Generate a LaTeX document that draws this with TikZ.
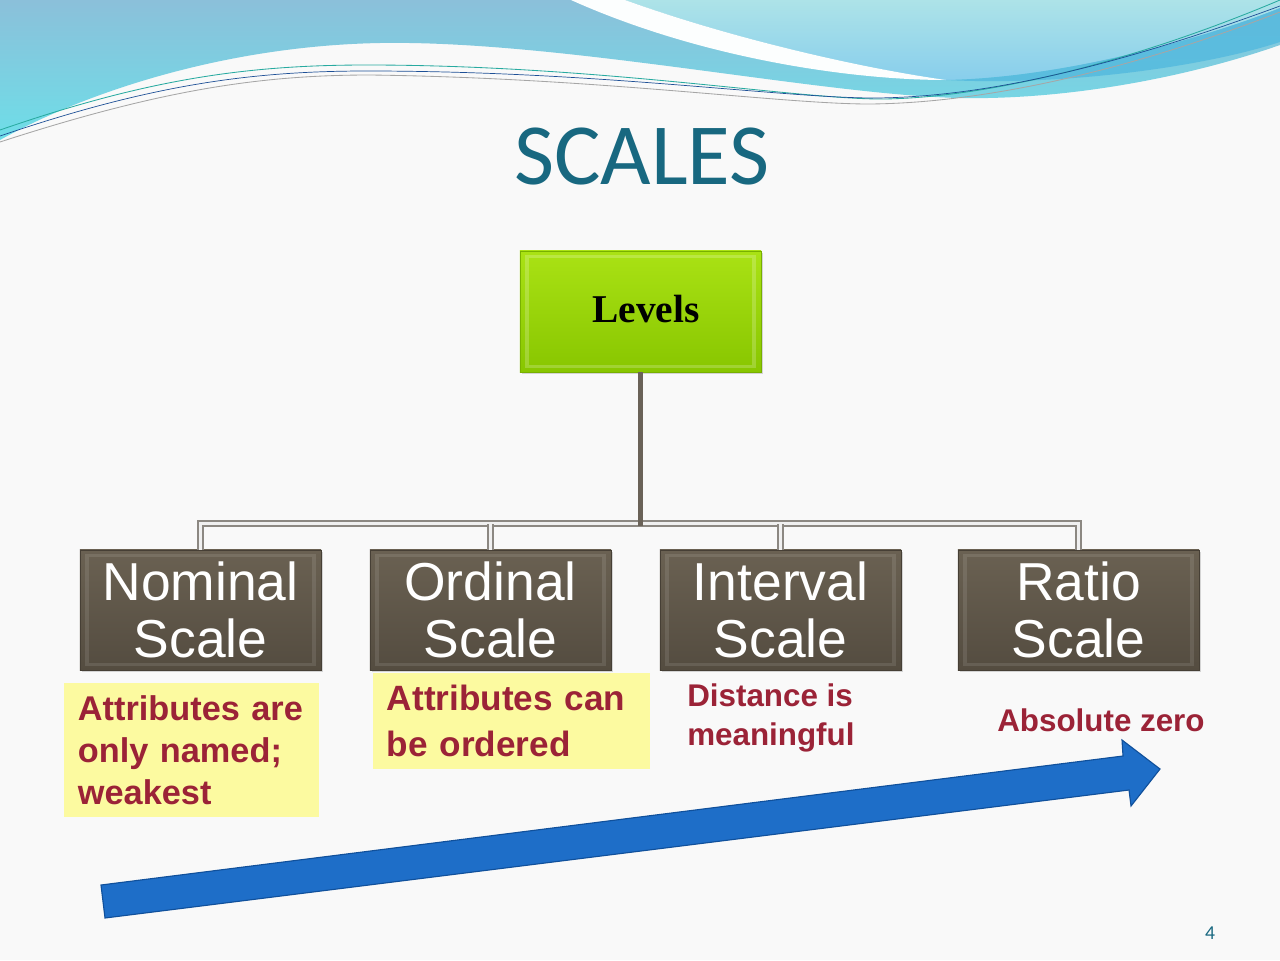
\documentclass[tikz,border=0pt]{standalone}
\usepackage{fontspec}
\setmainfont{Liberation Sans}
\newfontfamily\titlefont{Carlito}
\newfontfamily\levelfont{Liberation Serif}
\usetikzlibrary{shadows}

\definecolor{slidebg}{RGB}{249,249,249}
\definecolor{titleteal}{RGB}{24,104,128}
\definecolor{limetop}{RGB}{170,226,20}
\definecolor{limebot}{RGB}{136,198,0}
\definecolor{limeedge}{RGB}{120,176,0}
\definecolor{boxtop}{RGB}{106,97,82}
\definecolor{boxbot}{RGB}{84,76,64}
\definecolor{boxedge}{RGB}{70,63,53}
\definecolor{noteyellow}{RGB}{252,250,160}
\definecolor{notered}{RGB}{155,35,55}
\definecolor{arrowblue}{RGB}{30,110,200}
\definecolor{arrowedge}{RGB}{16,80,155}
\definecolor{trunkgray}{RGB}{106,98,88}
\definecolor{bargray}{RGB}{140,136,130}
\definecolor{waveA}{RGB}{139,192,218}
\definecolor{waveB}{RGB}{110,222,232}
\definecolor{waveC}{RGB}{173,227,232}
\definecolor{waveD}{RGB}{136,206,236}
\definecolor{bandblue}{RGB}{82,185,222}
\definecolor{lineteal}{RGB}{40,170,160}
\definecolor{linenavy}{RGB}{30,80,150}

\begin{document}
\begin{tikzpicture}[x=0.025cm, y=-0.025cm]

% ---- Define Styles ----
\tikzset{
  scalebox/.style={
    draw=boxedge, line width=0.6pt, top color=boxtop, bottom color=boxbot,
    minimum width=6.025cm, minimum height=3cm, inner sep=0pt,
    text=white, align=center, font=\fontsize{38}{40.5}\selectfont,
    drop shadow={shadow xshift=1.5pt, shadow yshift=-1.5pt, opacity=0.3},
    bevel=0.1
  },
  levelbox/.style={
    draw=limeedge, line width=0.6pt, top color=limetop, bottom color=limebot,
    minimum width=6.025cm, minimum height=3.025cm, inner sep=0pt,
    font=\levelfont\bfseries\fontsize{28}{30}\selectfont,
    drop shadow={shadow xshift=1.5pt, shadow yshift=-1.5pt, opacity=0.3},
    bevel=0.2
  },
  bevel/.style={
    path picture={
      \draw[white, opacity=#1, line width=2.5pt]
        ([shift={(5pt,-4pt)}]path picture bounding box.north west) rectangle
        ([shift={(-5pt,4pt)}]path picture bounding box.south east);
    }
  },
  notebox/.style={
    fill=noteyellow, text=notered, align=left, inner xsep=0.35cm, inner ysep=0pt,
    font=\bfseries\fontsize{24.4}{29.8}\selectfont
  },
  notetext/.style={
    text=notered, align=left, inner sep=0pt, anchor=west,
    font=\bfseries\fontsize{22.3}{27.7}\selectfont
  },
  barline/.style={
    draw=bargray, line width=1.1pt, double=white!88!gray, double distance=2.2pt
  },
  trunk/.style={draw=trunkgray, line width=3.5pt}
}

% =========================================================
% BACKGROUND AND TOP WAVES
% =========================================================
\fill[slidebg] (0,0) rectangle (1280,960);
\useasboundingbox (0,0) rectangle (1280,960);

\shade[top color=waveA, bottom color=waveB]
  (0,0) -- (1280,0) -- (1280,45)
  .. controls (1180,80) and (1060,100) .. (960,98)
  .. controls (820,95) and (560,40) .. (380,43)
  .. controls (220,46) and (80,95) .. (0,140) -- cycle;
% light aqua corner, right of the ribbon
\shade[top color=waveC, bottom color=waveD]
  (625,0) -- (1280,0) -- (1280,8)
  .. controls (1200,40) and (1060,78) .. (946,80)
  .. controls (860,68) and (730,38) .. (625,0) -- cycle;
% white ribbon
\fill[white!97!waveC]
  (571,0) .. controls (700,58) and (850,80) .. (946,80)
  .. controls (860,68) and (730,38) .. (625,0) -- cycle;
% mid blue band
\fill[bandblue, opacity=0.8]
  (946,80) .. controls (1060,78) and (1200,40) .. (1280,8) -- (1280,42)
  .. controls (1200,68) and (1060,86) .. (946,80) -- cycle;
% thin swoosh lines
\draw[lineteal, line width=0.6pt]
  (0,130) .. controls (150,78) and (250,65) .. (367,65)
  .. controls (600,65) and (800,100) .. (885,99)
  .. controls (1000,97) and (1150,55) .. (1280,0);
\draw[linenavy, line width=0.5pt]
  (0,136) .. controls (150,85) and (250,71) .. (367,71)
  .. controls (600,71) and (780,98) .. (875,98)
  .. controls (1010,97) and (1160,50) .. (1280,6);
\draw[gray!70, line width=0.6pt]
  (0,142) .. controls (160,90) and (260,75) .. (370,75)
  .. controls (600,78) and (780,104) .. (869,104)
  .. controls (1010,103) and (1170,55) .. (1280,12);

% =========================================================
% TITLE
% =========================================================
\node[font=\titlefont\fontsize{62}{68}\selectfont, text=titleteal] (title) at (642,157) {SCALES};

% =========================================================
% TREE: Levels -> four scales
% =========================================================
\node[levelbox] (levels) at (640.5,311.5) {\raisebox{4pt}{\hspace{8pt}Levels}};

\node[scalebox] (nom) at (200.5,610) {Nominal\\Scale};
\node[scalebox] (ord) at (490.5,610) {Ordinal\\Scale};
\node[scalebox] (int) at (780.5,610) {Interval\\Scale};
\node[scalebox] (rat) at (1078.5,610) {Ratio\\Scale};

\coordinate (bar) at ([yshift=0.65cm]nom.north);
\draw[barline] (nom.north) -- (bar) -| (rat.north);
\draw[barline] (ord.north) -- (ord.north |- bar);
\draw[barline] (int.north) -- (int.north |- bar);
\draw[trunk] (levels.south) -- ([yshift=-2pt]levels.south |- bar);

% =========================================================
% NOTES UNDER EACH SCALE
% =========================================================
\node[notebox, minimum width=6.375cm, minimum height=3.35cm, text width=5.675cm]
  (nomtxt) at (191.5,750) {Attributes are\\only named;\\weakest};
\node[notebox, minimum width=6.925cm, minimum height=2.4cm, text width=6.225cm,
  font=\bfseries\fontsize{25}{33.3}\selectfont]
  (ordtxt) at (511.5,721) {Attributes can\\be ordered};
\node[notetext] (inttxt) at (687,717.5) {Distance is\\meaningful};
\node[notetext] (rattxt) at (997,720) {Absolute zero};

% =========================================================
% BLOCK ARROW: weakest -> strongest
% =========================================================
\filldraw[fill=arrowblue, draw=arrowedge, line width=0.8pt, line join=miter]
  (101,885) -- (1123,756) -- (1122,740) -- (1160,769)
  -- (1131,806) -- (1129,790) -- (105,918) -- cycle;

% page number
\node[font=\titlefont\fontsize{14}{16}\selectfont, text=titleteal] (pagenum) at (1210,933) {4};

\end{tikzpicture}
\end{document}
